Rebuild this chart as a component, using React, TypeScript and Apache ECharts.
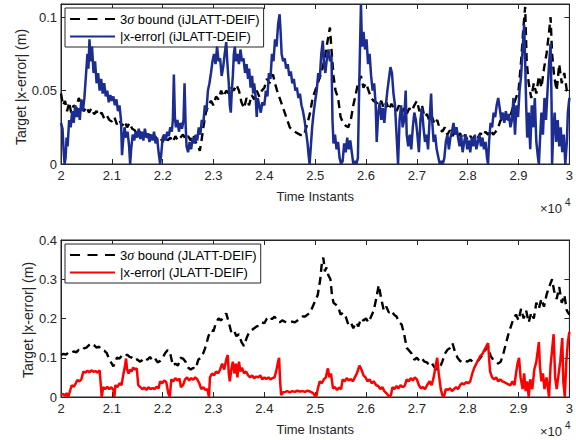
import React, { useEffect, useRef } from 'react';
import * as echarts from 'echarts';

const FONT = "'Liberation Sans', Arial, Helvetica, sans-serif";
const AX = '#262626';
const BLUE = '#1b2d91';
const RED = '#ff0000';
const BLACK = '#000000';

const X_MIN = 20000;
const X_MAX = 30000;
const X_STEP = 1000;
const TOP_Y_MAX = 0.109;
const TOP_Y_STEP = 0.05;
const BOT_Y_MAX = 0.4;
const BOT_Y_STEP = 0.1;

const X_TITLE = 'Time Instants';
const Y_TITLE = 'Target |x-error| (m)';
const NAME_BOUND_TOP = '3σ bound (iJLATT-DEIF)';
const NAME_ERR_TOP = '|x-error| (iJLATT-DEIF)';
const NAME_BOUND_BOT = '3σ bound (JLATT-DEIF)';
const NAME_ERR_BOT = '|x-error| (JLATT-DEIF)';

// top panel: |x-error| (iJLATT-DEIF)
const errTop: [number, number][] = [
  [20000, .028], [20030, .024], [20050, .01], [20070, 0], [20090, .004], [20110, .018], [20130, .012], [20160, .03], [20190, .025], [20220, .036],
  [20250, .028], [20280, .04], [20310, .032], [20340, .038], [20370, .03], [20400, .044], [20430, .036], [20460, .045], [20490, .06], [20520, .075],
  [20540, .065], [20560, .085], [20580, .07], [20610, .08], [20640, .062], [20670, .07], [20700, .055], [20730, .062], [20760, .05], [20790, .058],
  [20820, .048], [20850, .055], [20880, .046], [20910, .05], [20940, .042], [20970, .047], [21000, .043], [21030, .046], [21060, .04], [21090, .044],
  [21120, .036], [21150, .04], [21180, .03], [21200, .006], [21220, .015], [21250, .025], [21280, .018], [21310, .022], [21340, .012], [21360, 0],
  [21380, .01], [21410, .02], [21440, .016], [21470, .022], [21500, .018], [21530, .024], [21560, .017], [21590, .022], [21620, .016], [21650, .024],
  [21680, .018], [21710, .021], [21740, .015], [21770, .02], [21800, .016], [21830, .022], [21860, .014], [21890, .018], [21920, .008], [21950, 0],
  [21970, .006], [22000, .018], [22030, .02], [22060, .016], [22090, .022], [22120, .019], [22150, .025], [22180, .022], [22200, .03], [22220, .061],
  [22240, .032], [22260, .025], [22290, .03], [22320, .022], [22350, .028], [22380, .024], [22410, .03], [22430, .055], [22450, .028], [22470, .012],
  [22500, .008], [22530, .015], [22560, .01], [22590, .018], [22620, .014], [22650, .02], [22680, .016], [22710, .025], [22740, .02], [22770, .03],
  [22800, .028], [22830, .04], [22860, .036], [22890, .05], [22920, .055], [22950, .062], [22980, .07], [23010, .075], [23040, .068], [23070, .08],
  [23100, .07], [23130, .072], [23160, .06], [23190, .066], [23220, .075], [23250, .083], [23270, .07], [23300, .055], [23320, .04], [23340, .035],
  [23360, .05], [23380, .06], [23400, .075], [23420, .08], [23440, .07], [23470, .075], [23500, .068], [23530, .078], [23560, .07], [23590, .072],
  [23620, .062], [23650, .068], [23680, .058], [23700, .065], [23730, .052], [23760, .06], [23780, .048], [23800, .055], [23830, .045], [23850, .032],
  [23870, .045], [23900, .04], [23930, .035], [23960, .042], [24000, .04], [24030, .05], [24060, .046], [24090, .062], [24120, .058], [24150, .075],
  [24180, .07], [24210, .085], [24240, .08], [24270, .095], [24300, .102], [24320, .09], [24340, .075], [24370, .07], [24400, .072], [24430, .065],
  [24460, .068], [24490, .06], [24520, .063], [24550, .055], [24580, .058], [24610, .05], [24640, .052], [24670, .045], [24700, .048], [24730, .04],
  [24760, .036], [24790, .03], [24820, .022], [24850, .014], [24870, .006], [24890, 0], [24910, .01], [24940, .025], [24970, .035], [25000, .043],
  [25030, .05], [25060, .062], [25090, .058], [25120, .075], [25150, .084], [25170, .07], [25200, .062], [25230, .072], [25260, .078], [25290, .07],
  [25320, .074], [25340, .03], [25360, .014], [25390, .02], [25420, .01], [25450, .015], [25480, .004], [25510, 0], [25540, .002], [25570, .014],
  [25600, .008], [25630, .018], [25660, .01], [25690, .016], [25720, .008], [25750, 0], [25780, .002], [25810, 0], [25840, .004], [25870, .06],
  [25900, .109], [25920, .08], [25950, .09], [25980, .078], [26010, .085], [26040, .068], [26070, .075], [26100, .06], [26130, .05], [26160, .055],
  [26190, .04], [26210, .015], [26240, .035], [26270, .042], [26300, .03], [26330, .038], [26360, .028], [26390, .04], [26420, .05], [26450, .058],
  [26480, .066], [26510, .062], [26540, .048], [26570, .04], [26600, .02], [26630, 0], [26660, .03], [26690, .04], [26720, .025], [26750, .03],
  [26780, .05], [26800, .02], [26830, .012], [26860, .02], [26890, .01], [26920, .025], [26950, .035], [26980, .03], [27010, .02], [27040, .008],
  [27070, .03], [27100, .038], [27130, .025], [27160, .015], [27190, .02], [27220, .01], [27250, .03], [27280, .048], [27300, .03], [27330, .015],
  [27360, .02], [27390, .01], [27420, .005], [27450, 0], [27480, .002], [27510, 0], [27540, .004], [27570, .015], [27600, .02], [27630, .01],
  [27660, .018], [27690, .022], [27720, .028], [27750, .02], [27780, .025], [27810, .018], [27840, .012], [27870, .02], [27900, .008], [27930, .015],
  [27960, .02], [27990, .01], [28020, .016], [28050, .008], [28080, .018], [28110, .012], [28140, .02], [28170, .01], [28200, .015], [28230, .02],
  [28260, .012], [28290, .018], [28320, .01], [28350, .015], [28380, .004], [28400, 0], [28420, .015], [28450, .028], [28480, .025], [28510, .035],
  [28540, .032], [28570, .04], [28600, .045], [28630, .038], [28660, .03], [28690, .035], [28720, .028], [28750, .036], [28780, .03], [28810, .034],
  [28840, .025], [28870, .03], [28900, .045], [28930, .02], [28960, .04], [28990, .032], [29020, .05], [29050, .06], [29080, .078], [29110, .095],
  [29130, .07], [29150, .04], [29170, .018], [29200, .035], [29230, .01], [29260, .04], [29290, .025], [29320, .045], [29350, .015], [29380, .005],
  [29400, 0], [29420, .015], [29450, .035], [29480, .02], [29510, .045], [29540, .03], [29570, .05], [29600, .068], [29630, .082], [29650, .04],
  [29660, 0], [29680, .02], [29710, .035], [29740, .015], [29770, .03], [29800, .012], [29830, .025], [29860, .008], [29890, .02], [29920, 0],
  [29950, .015], [29970, .035], [30000, .045],
];

// top panel: 3-sigma bound (iJLATT-DEIF)
const boundTop: [number, number][] = [
  [20000, .048], [20040, .04], [20080, .043], [20120, .036], [20160, .042], [20200, .035], [20250, .04], [20300, .038], [20350, .045], [20400, .04],
  [20450, .036], [20500, .039], [20550, .035], [20600, .038], [20650, .034], [20700, .036], [20750, .033], [20800, .035], [20850, .031], [20900, .033],
  [20950, .03], [21000, .029], [21050, .032], [21100, .027], [21150, .03], [21200, .026], [21250, .029], [21300, .025], [21350, .028], [21400, .024],
  [21450, .023], [21500, .02], [21550, .022], [21600, .019], [21650, .021], [21700, .018], [21750, .02], [21800, .017], [21850, .019], [21900, .016],
  [21950, .018], [22000, .015], [22050, .019], [22100, .016], [22150, .018], [22200, .015], [22250, .019], [22300, .016], [22350, .018], [22400, .02],
  [22450, .017], [22500, .019], [22550, .016], [22600, .02], [22650, .015], [22700, .012], [22730, .009], [22760, .015], [22800, .025], [22850, .035],
  [22900, .04], [22950, .043], [23000, .04], [23050, .046], [23100, .044], [23150, .05], [23200, .046], [23250, .05], [23300, .048], [23350, .052],
  [23400, .05], [23450, .054], [23500, .05], [23550, .042], [23600, .038], [23650, .045], [23700, .04], [23750, .047], [23800, .044], [23850, .05],
  [23900, .046], [23950, .05], [24000, .052], [24050, .058], [24100, .055], [24150, .06], [24170, .061], [24200, .056], [24250, .05], [24300, .045],
  [24350, .04], [24400, .035], [24450, .03], [24500, .025], [24550, .023], [24600, .022], [24650, .021], [24700, .02], [24760, .019], [24800, .022],
  [24850, .028], [24900, .035], [24950, .045], [25000, .05], [25050, .055], [25100, .06], [25150, .066], [25200, .075], [25250, .085], [25290, .093],
  [25320, .078], [25360, .06], [25400, .05], [25450, .045], [25500, .032], [25550, .028], [25600, .026], [25650, .025], [25700, .03], [25750, .04],
  [25800, .048], [25850, .056], [25900, .06], [25950, .052], [26000, .055], [26050, .05], [26100, .045], [26150, .043], [26200, .042], [26250, .04],
  [26300, .043], [26350, .038], [26400, .042], [26450, .037], [26500, .041], [26550, .038], [26600, .036], [26650, .04], [26700, .035], [26750, .038],
  [26800, .034], [26850, .038], [26900, .036], [26950, .04], [27000, .043], [27050, .036], [27100, .04], [27150, .032], [27200, .034], [27250, .029],
  [27300, .032], [27350, .027], [27400, .03], [27450, .024], [27500, .022], [27550, .025], [27600, .02], [27650, .023], [27700, .019], [27750, .022],
  [27800, .018], [27850, .021], [27900, .017], [27950, .02], [28000, .016], [28050, .019], [28100, .017], [28150, .02], [28200, .018], [28250, .021],
  [28300, .019], [28350, .022], [28400, .02], [28450, .023], [28500, .02], [28550, .022], [28600, .025], [28650, .03], [28700, .028], [28750, .032],
  [28800, .03], [28850, .034], [28900, .04], [28950, .045], [29000, .05], [29050, .07], [29100, .095], [29130, .107], [29160, .07], [29200, .055],
  [29250, .045], [29300, .055], [29350, .048], [29400, .06], [29450, .052], [29500, .065], [29550, .075], [29600, .09], [29630, .1], [29660, .075],
  [29700, .06], [29750, .05], [29800, .068], [29850, .055], [29900, .062], [29950, .05], [30000, .048],
];

// bottom panel: 3-sigma bound (JLATT-DEIF)
const boundBot: [number, number][] = [
  [20000, .107], [20050, .11], [20100, .108], [20150, .114], [20200, .112], [20250, .116], [20300, .114], [20350, .12], [20400, .118], [20450, .124],
  [20500, .126], [20550, .132], [20600, .137], [20650, .132], [20700, .126], [20750, .128], [20800, .12], [20850, .118], [20900, .112], [20950, .095],
  [21000, .085], [21030, .078], [21070, .09], [21100, .1], [21150, .098], [21200, .106], [21250, .103], [21300, .108], [21350, .102], [21400, .1],
  [21450, .093], [21500, .096], [21550, .09], [21600, .094], [21650, .1], [21700, .095], [21750, .102], [21800, .093], [21850, .098], [21900, .088],
  [21950, .092], [22000, .1], [22050, .112], [22100, .12], [22150, .11], [22200, .08], [22250, .085], [22300, .08], [22350, .1], [22400, .098],
  [22450, .09], [22500, .075], [22550, .07], [22600, .074], [22650, .072], [22700, .095], [22750, .1], [22800, .112], [22850, .13], [22900, .155],
  [22950, .17], [23000, .168], [23050, .19], [23100, .2], [23150, .195], [23200, .205], [23250, .213], [23300, .19], [23350, .165], [23400, .17],
  [23450, .155], [23500, .16], [23550, .14], [23600, .13], [23650, .15], [23700, .165], [23750, .17], [23800, .175], [23850, .18], [23900, .182],
  [23950, .19], [24000, .188], [24050, .2], [24100, .205], [24150, .198], [24200, .205], [24250, .195], [24300, .19], [24350, .195], [24400, .192],
  [24450, .19], [24500, .19], [24550, .192], [24600, .19], [24650, .195], [24700, .2], [24750, .205], [24800, .205], [24850, .21], [24900, .215],
  [24950, .23], [25000, .245], [25050, .26], [25100, .3], [25130, .34], [25160, .355], [25190, .32], [25220, .33], [25260, .31], [25300, .3],
  [25330, .26], [25360, .24], [25400, .236], [25450, .23], [25500, .21], [25550, .215], [25600, .205], [25650, .185], [25700, .19], [25750, .175],
  [25800, .19], [25850, .18], [25900, .2], [25950, .195], [26000, .2], [26050, .19], [26100, .205], [26150, .22], [26200, .25], [26250, .285],
  [26300, .25], [26350, .22], [26400, .23], [26450, .215], [26500, .22], [26550, .21], [26600, .205], [26650, .19], [26700, .185], [26750, .16],
  [26800, .125], [26850, .118], [26900, .11], [26950, .095], [27000, .1], [27050, .092], [27100, .098], [27150, .09], [27200, .088], [27250, .08],
  [27300, .085], [27350, .075], [27400, .07], [27450, .075], [27500, .09], [27550, .11], [27600, .12], [27650, .125], [27700, .137], [27750, .115],
  [27800, .1], [27850, .092], [27900, .088], [27950, .092], [28000, .09], [28050, .095], [28100, .09], [28150, .094], [28200, .092], [28250, .1],
  [28300, .11], [28350, .12], [28400, .13], [28450, .105], [28500, .095], [28550, .09], [28600, .085], [28650, .09], [28700, .11], [28750, .135],
  [28800, .16], [28850, .18], [28900, .2], [28950, .21], [29000, .195], [29050, .225], [29100, .2], [29150, .22], [29200, .19], [29250, .215],
  [29300, .2], [29350, .24], [29400, .225], [29450, .25], [29500, .23], [29550, .26], [29600, .28], [29660, .3], [29700, .27], [29750, .25],
  [29800, .28], [29850, .24], [29900, .26], [29950, .22], [30000, .21],
];

// bottom panel: |x-error| (JLATT-DEIF)
const errBot: [number, number][] = [
  [20000, .005], [20040, .008], [20080, .003], [20110, .01], [20140, 0], [20170, .012], [20210, .03], [20250, .026], [20290, .035], [20320, .043],
  [20360, .04], [20400, .045], [20440, .065], [20480, .062], [20520, .067], [20560, .063], [20600, .068], [20640, .064], [20680, .066], [20720, .062],
  [20760, .068], [20790, .02], [20800, 0], [20830, .025], [20870, .02], [20910, .026], [20950, .02], [20990, .025], [21030, .018], [21050, 0],
  [21070, .03], [21110, .025], [21150, .035], [21190, .03], [21230, .06], [21260, .08], [21280, .098], [21300, .07], [21330, .06], [21360, .07],
  [21390, .065], [21420, .075], [21460, .07], [21490, .073], [21520, .03], [21560, .025], [21600, .02], [21640, .024], [21680, .018], [21720, .025],
  [21760, .02], [21800, .023], [21840, .02], [21880, .026], [21920, .022], [21950, .04], [21990, .035], [22030, .042], [22070, .038], [22110, .01],
  [22140, 0], [22170, .045], [22210, .04], [22250, .048], [22290, .042], [22330, .047], [22360, .025], [22400, .03], [22440, .045], [22480, .05],
  [22520, .042], [22560, .048], [22600, .044], [22640, .05], [22680, .045], [22720, .035], [22760, .02], [22800, .025], [22840, .018], [22880, .02],
  [22910, 0], [22930, .05], [22970, .06], [23010, .055], [23050, .065], [23090, .06], [23130, .07], [23170, .085], [23210, .07], [23250, .095],
  [23280, .107], [23300, .06], [23320, .04], [23350, .07], [23380, .09], [23410, .06], [23440, .085], [23470, .05], [23500, .09], [23530, .065],
  [23560, .075], [23600, .06], [23640, .065], [23680, .055], [23720, .05], [23760, .055], [23800, .048], [23840, .052], [23880, .05], [23920, .055],
  [23960, .045], [24000, .05], [24040, .046], [24080, .05], [24120, .045], [24160, .048], [24200, .05], [24240, .07], [24270, .09], [24290, .1],
  [24310, .04], [24330, .005], [24370, .012], [24410, .013], [24450, .015], [24500, .012], [24550, .015], [24600, .013], [24650, .016], [24700, .014],
  [24750, .015], [24800, .013], [24850, .016], [24900, .014], [24960, .01], [25000, .002], [25020, 0], [25050, .02], [25090, .04], [25130, .035],
  [25170, .045], [25210, .05], [25250, .073], [25280, .05], [25310, .06], [25350, .022], [25390, .025], [25430, .018], [25470, .024], [25510, .02],
  [25540, .045], [25580, .04], [25620, .048], [25660, .042], [25700, .046], [25740, .04], [25780, .05], [25820, .06], [25870, .08], [25910, .07],
  [25950, .055], [25990, .05], [26030, .04], [26070, .045], [26110, .035], [26150, .04], [26200, .03], [26240, .028], [26280, .02], [26320, .025],
  [26360, .015], [26400, .01], [26430, .005], [26460, 0], [26490, .005], [26520, .025], [26560, .02], [26600, .028], [26640, .022], [26680, .03],
  [26720, .025], [26760, .028], [26800, .045], [26840, .04], [26880, .048], [26920, .042], [26960, .05], [27000, .045], [27040, .03], [27080, .022],
  [27120, .025], [27160, .02], [27200, .03], [27250, .04], [27290, .03], [27330, .05], [27370, .08], [27400, .1], [27430, .06], [27470, .02],
  [27500, .005], [27530, 0], [27570, .02], [27610, .018], [27650, .022], [27690, .015], [27730, .02], [27770, .025], [27810, .02], [27850, .03],
  [27890, .035], [27930, .032], [27970, .038], [28010, .035], [28050, .04], [28090, .06], [28130, .075], [28170, .085], [28210, .095], [28250, .105],
  [28290, .11], [28330, .12], [28370, .13], [28400, .137], [28420, .1], [28440, .065], [28480, .05], [28520, .045], [28560, .05], [28600, .04],
  [28640, .045], [28680, .04], [28720, .038], [28760, .035], [28800, .032], [28840, .03], [28880, .04], [28920, .03], [28950, .06], [28980, .085],
  [29010, .1], [29040, .05], [29080, .02], [29110, .06], [29140, .015], [29170, .04], [29200, 0], [29230, .045], [29270, .02], [29310, .07],
  [29350, .09], [29380, .12], [29400, .14], [29420, .08], [29450, .04], [29480, .06], [29510, .02], [29550, .05], [29580, .02], [29600, 0],
  [29630, .08], [29660, .12], [29690, .16], [29720, .05], [29750, .02], [29790, .06], [29820, .09], [29860, .15], [29880, .04], [29910, 0],
  [29940, .09], [29970, .14], [30000, .166],
];

const txt = { fontFamily: FONT, fontSize: 13, color: AX };

function xAxisDef(gridIndex: number, position: 'top' | 'bottom', showLabel: boolean) {
  return {
    type: 'value', gridIndex, position, min: X_MIN, max: X_MAX, interval: X_STEP,
    axisLine: { show: true, onZero: false, lineStyle: { color: AX, width: 1 } },
    axisTick: { show: true, inside: true, length: 5, lineStyle: { color: AX, width: 1 } },
    splitLine: { show: false },
    axisLabel: {
      show: showLabel, margin: 5, ...txt,
      formatter: (v: number) => String(+(v / 10000).toFixed(1)),
    },
    name: showLabel ? X_TITLE : '',
    nameLocation: 'middle', nameGap: 26, nameMoveOverlap: false,
    nameTextStyle: { ...txt },
  };
}

function yAxisDef(gridIndex: number, position: 'left' | 'right', showLabel: boolean, max: number, step: number) {
  return {
    type: 'value', gridIndex, position, min: 0, max, interval: step,
    axisLine: { show: true, onZero: false, lineStyle: { color: AX, width: 1 } },
    axisTick: { show: true, inside: true, length: 5, lineStyle: { color: AX, width: 1 } },
    splitLine: { show: false },
    axisLabel: {
      show: showLabel, margin: 4, ...txt,
      formatter: (v: number) => {
        const k = v / step;
        if (Math.abs(k - Math.round(k)) > 1e-6) return '';
        return String(+v.toFixed(3));
      },
    },
  };
}

const legendRich = {
  n: { fontFamily: FONT, fontSize: 13, color: '#000', lineHeight: 16 },
  s: { fontFamily: "'Liberation Serif', 'DejaVu Serif', serif", fontStyle: 'italic', fontSize: 14, color: '#000', lineHeight: 16 },
};
const legendFormatter = (name: string) =>
  name.startsWith('3σ') ? `{n|3}{s|σ}{n|${name.slice(2)}}` : `{n|${name}}`;

const ICON_DASH = 'path://M0,0h10v2h-10zM17.5,0h10v2h-10zM35,0h10v2h-10z';
const ICON_SOLID = 'path://M0,0h45v2h-45z';

function legendDef(names: string[], top: number) {
  return {
    data: [
      { name: names[0], icon: ICON_DASH },
      { name: names[1], icon: ICON_SOLID },
    ],
    orient: 'vertical', left: 65, top,
    itemWidth: 45, itemHeight: 2.5, itemGap: 4,
    padding: [4, 4, 4, 5],
    borderColor: AX, borderWidth: 1, backgroundColor: '#fff',
    textStyle: { ...txt, color: '#000', rich: legendRich },
    formatter: legendFormatter,
    selectedMode: false,
  };
}

const dashed = { color: BLACK, width: 2.4, type: [8, 5] as number[] };

const yTitle = (x: number, y: number) => ({
  type: 'text', x, y, rotation: Math.PI / 2,
  style: { text: Y_TITLE, font: `14px ${FONT}`, fill: AX, align: 'center', verticalAlign: 'middle' },
});

const option = {
  animation: false,
  backgroundColor: '#fff',
  grid: [
    { left: 61, top: 4, width: 509, height: 160, show: true, borderColor: AX, borderWidth: 1, backgroundColor: 'transparent' },
    { left: 61, top: 240, width: 509, height: 157, show: true, borderColor: AX, borderWidth: 1, backgroundColor: 'transparent' },
  ],
  xAxis: [
    xAxisDef(0, 'bottom', true),
    xAxisDef(0, 'top', false),
    xAxisDef(1, 'bottom', true),
    xAxisDef(1, 'top', false),
  ],
  yAxis: [
    yAxisDef(0, 'left', true, TOP_Y_MAX, TOP_Y_STEP),
    yAxisDef(0, 'right', false, TOP_Y_MAX, TOP_Y_STEP),
    yAxisDef(1, 'left', true, BOT_Y_MAX, BOT_Y_STEP),
    yAxisDef(1, 'right', false, BOT_Y_MAX, BOT_Y_STEP),
  ],
  legend: [
    legendDef([NAME_BOUND_TOP, NAME_ERR_TOP], 8),
    legendDef([NAME_BOUND_BOT, NAME_ERR_BOT], 244),
  ],
  series: [
    { name: NAME_BOUND_TOP, type: 'line', xAxisIndex: 0, yAxisIndex: 0, data: boundTop, showSymbol: false, symbol: 'none', lineStyle: dashed, itemStyle: { color: BLACK }, z: 3 },
    { name: NAME_ERR_TOP, type: 'line', xAxisIndex: 0, yAxisIndex: 0, data: errTop, showSymbol: false, symbol: 'none', lineStyle: { color: BLUE, width: 2.5 }, itemStyle: { color: BLUE }, z: 4 },
    { name: NAME_BOUND_BOT, type: 'line', xAxisIndex: 2, yAxisIndex: 2, data: boundBot, showSymbol: false, symbol: 'none', lineStyle: dashed, itemStyle: { color: BLACK }, z: 3 },
    { name: NAME_ERR_BOT, type: 'line', xAxisIndex: 2, yAxisIndex: 2, data: errBot, showSymbol: false, symbol: 'none', lineStyle: { color: RED, width: 2.5 }, itemStyle: { color: RED }, z: 4 },
  ],
  graphic: [
    yTitle(21, 87),
    yTitle(28, 320),
    { type: 'text', left: 540, top: 202, style: { text: '×10', font: `13px ${FONT}`, fill: AX } },
    { type: 'text', left: 565, top: 197, style: { text: '4', font: `10px ${FONT}`, fill: AX } },
    { type: 'text', left: 540, top: 425, style: { text: '×10', font: `13px ${FONT}`, fill: AX } },
    { type: 'text', left: 565, top: 420, style: { text: '4', font: `10px ${FONT}`, fill: AX } },
  ],
};

export default function App() {
  const ref = useRef<HTMLDivElement>(null);
  useEffect(() => {
    const chart = echarts.init(ref.current!, null, { renderer: 'svg' });
    chart.setOption(option as any);
    return () => chart.dispose();
  }, []);
  return <div ref={ref} style={{ position: 'absolute', left: 0, top: 0, width: 576, height: 440 }} />;
}
